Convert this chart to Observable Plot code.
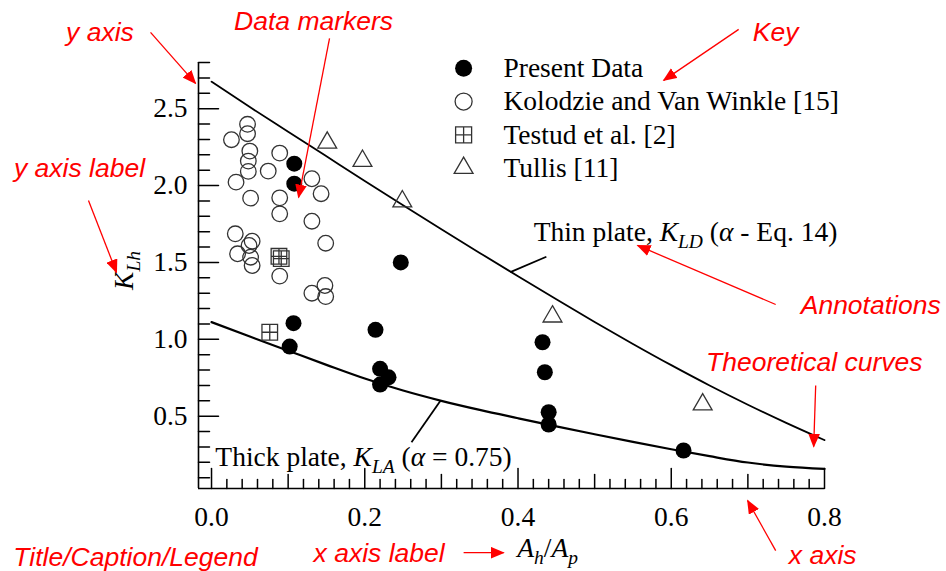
<!DOCTYPE html>
<html><head><meta charset="utf-8">
<script src="https://cdn.jsdelivr.net/npm/d3@7"></script>
<script src="https://cdn.jsdelivr.net/npm/@observablehq/plot@0.6"></script>
<style>
html,body{margin:0;padding:0;background:#fff;}
#chart{width:946px;height:571px;overflow:hidden;}
</style></head><body><div id="chart"></div>
<script>
// ---------------- data ----------------
const presentData = [
  [0.108,2.142],[0.108,2.012],[0.107,1.105],[0.102,0.953],[0.214,1.062],
  [0.220,0.808],[0.231,0.753],[0.220,0.706],[0.247,1.500],[0.432,0.981],
  [0.435,0.786],[0.440,0.526],[0.440,0.446],[0.616,0.277]
];
const kolodzieData = [
  [0.047,2.398],[0.047,2.337],[0.026,2.298],[0.050,2.224],[0.089,2.211],
  [0.048,2.159],[0.048,2.092],[0.074,2.094],[0.032,2.022],[0.131,2.044],
  [0.143,1.947],[0.051,1.918],[0.089,1.920],[0.089,1.816],[0.131,1.768],
  [0.031,1.686],[0.053,1.638],[0.049,1.610],[0.149,1.625],[0.034,1.556],
  [0.051,1.534],[0.053,1.480],[0.089,1.411],[0.131,1.300],[0.148,1.350],
  [0.149,1.278]
];
const testudData = [[0.088,1.540],[0.091,1.525],[0.076,1.046]];
const tullisData = [[0.151,2.278],[0.197,2.160],[0.249,1.897],[0.445,1.148],[0.641,0.576]];

const curveX     = [0,0.05,0.1,0.15,0.2,0.25,0.3,0.35,0.4,0.45,0.5,0.55,0.6,0.65,0.7,0.75,0.8];
const thinPlateY = [2.675,2.51,2.35,2.19,2.03,1.872,1.716,1.562,1.41,1.26,1.113,0.97,0.832,0.70,0.575,0.457,0.345];
const thickPlateY= [1.112,1.018,0.926,0.834,0.745,0.667,0.600,0.541,0.487,0.434,0.383,0.333,0.285,0.240,0.199,0.172,0.157];

const xTickValues = [0,0.2,0.4,0.6,0.8];
const xTickLabels = ["0.0","0.2","0.4","0.6","0.8"];
const yTickValues = [0.5,1.0,1.5,2.0,2.5];
const yTickLabels = ["0.5","1.0","1.5","2.0","2.5"];

const legendLabels = ["Present Data","Kolodzie and Van Winkle [15]","Testud et al. [2]","Tullis [11]"];

// rich labels: segments [text, style] (i = italic, s = subscript)
const thinLabel  = [["Thin plate, ",""],["K","i"],["LD","is"],[" (",""],["α","i"],[" - Eq. 14)",""]];
const thickLabel = [["Thick plate, ",""],["K","i"],["LA","is"],[" (",""],["α","i"],[" = 0.75)",""]];
const xLabel     = [["A","i"],["h","is"],["/",""],["A","i"],["p","is"]];
const yLabel     = [["K","i"],["Lh","is"]];

// leader lines from the curves to their labels
const leaders = [
  {x1:0.390, y1:1.437, x2:0.437, y2:1.537},
  {x1:0.299, y1:0.602, x2:0.261, y2:0.331}
];

// red explanatory annotations (data units, extended beyond frame)
const annotationTexts = [
  {text:"y axis", x:-0.1456, y:2.998},
  {text:"Data markers", x:0.1332, y:3.068},
  {text:"Key", x:0.7363, y:2.998},
  {text:"y axis label", x:-0.1723, y:2.111},
  {text:"Annotations", x:0.8603, y:1.220},
  {text:"Theoretical curves", x:0.7866, y:0.851},
  {text:"x axis", x:0.7977, y:-0.405},
  {text:"x axis label", x:0.2187, y:-0.396},
  {text:"Title/Caption/Legend", x:-0.0992, y:-0.418}
];
const annotationArrows = [
  {x1:-0.0796, y1:2.9961, x2:-0.0209, y2:2.6643},
  {x1:0.1540, y1:2.957, x2:0.1136, y2:1.9226},
  {x1:0.6880, y1:3.0156, x2:0.5901, y2:2.6838},
  {x1:-0.1606, y1:1.9030, x2:-0.1240, y2:1.4346},
  {x1:0.7363, y1:1.2264, x2:0.5561, y2:1.6103},
  {x1:0.7885, y1:0.6994, x2:0.7859, y2:0.3025},
  {x1:0.7363, y1:-0.3741, x2:0.6997, y2:-0.0488},
  {x1:0.3290, y1:-0.3871, x2:0.3812, y2:-0.3871}
];

// ---------------- layout ----------------
const X0 = -0.017, X1 = 0.8, Y0 = 0.03, Y1 = 2.8;
const SERIF = "Liberation Serif, Times New Roman, serif";
const SANS = "Liberation Sans, Arial, sans-serif";
const MARK = "#333";
const FS = 27.5;
const plain = s => s.map(p => p[0]).join("");

const tickShape = {draw(ctx, l) { ctx.moveTo(0, 0); ctx.lineTo(0, -l); }};
const squareCross = {draw(ctx, size) {
  const h = Math.sqrt(size / Math.PI);
  ctx.moveTo(-h, -h); ctx.lineTo(h, -h); ctx.lineTo(h, h); ctx.lineTo(-h, h); ctx.closePath();
  ctx.moveTo(0, -h); ctx.lineTo(0, h);
  ctx.moveTo(-h, 0); ctx.lineTo(h, 0);
}};

const xMid = [0.1,0.3,0.5,0.7];
const xMinor = d3.range(0, 41).map(i => i * 0.02).filter(v => Math.abs(v * 10 - Math.round(v * 10)) > 1e-6);
const yMinor = d3.range(1, 29).map(i => i / 10).filter(v => Math.abs(v * 2 - Math.round(v * 2)) > 1e-6);

const LEG_SX = 0.329, LEG_TX = 0.381, LEG_Y0 = 2.762, LEG_DY = 0.216;
const legendRows = legendLabels.map((name, i) => ({name, x: LEG_SX, tx: LEG_TX, y: LEG_Y0 - i * LEG_DY}));

const richLabels = [
  {segs: thinLabel, x: 0.4204, y: 1.695, anchor: "start", rotate: 0},
  {segs: thickLabel, x: 0.005, y: 0.231, anchor: "start", rotate: 0},
  {segs: xLabel, x: 0.4386, y: -0.361, anchor: "middle", rotate: 0},
  {segs: yLabel, x: -0.1136, y: 1.448, anchor: "middle", rotate: -90}
];

const plot = Plot.plot({
  width: 946, height: 571,
  marginLeft: 198, marginRight: 122, marginTop: 62, marginBottom: 83,
  x: {domain: [X0, X1], axis: null},
  y: {domain: [Y0, Y1], axis: null},
  style: {background: "#fff", fontFamily: SERIF, overflow: "visible"},
  marks: [
    // axis lines
    Plot.ruleX([X0], {y1: Y0, y2: Y1, stroke: "#000", strokeWidth: 1.6}),
    Plot.ruleY([Y0], {x1: X0, x2: X1, stroke: "#000", strokeWidth: 1.6}),
    // inward ticks
    Plot.vector(xTickValues, {x: d => d, y: Y0, length: 20, rotate: 0, anchor: "start", shape: tickShape, stroke: "#000", strokeWidth: 1.5}),
    Plot.vector(xMid, {x: d => d, y: Y0, length: 14, rotate: 0, anchor: "start", shape: tickShape, stroke: "#000", strokeWidth: 1.5}),
    Plot.vector(xMinor, {x: d => d, y: Y0, length: 9, rotate: 0, anchor: "start", shape: tickShape, stroke: "#000", strokeWidth: 1.5}),
    Plot.vector(yTickValues, {x: X0, y: d => d, length: 20, rotate: 90, anchor: "start", shape: tickShape, stroke: "#000", strokeWidth: 1.5}),
    Plot.vector(yMinor, {x: X0, y: d => d, length: 11, rotate: 90, anchor: "start", shape: tickShape, stroke: "#000", strokeWidth: 1.5}),
    // tick labels
    Plot.text(xTickValues, {x: d => d, y: Y0, text: (d, i) => xTickLabels[i], dy: 28.5, fontSize: FS, fontFamily: SERIF, fill: "#000"}),
    Plot.text(yTickValues, {x: X0, y: d => d, text: (d, i) => yTickLabels[i], dx: -11, textAnchor: "end", fontSize: FS, fontFamily: SERIF, fill: "#000"}),
    // theoretical curves
    Plot.line(curveX.map((x, i) => [x, thinPlateY[i]]), {curve: "monotone-x", stroke: "#000", strokeWidth: 1.8}),
    Plot.line(curveX.map((x, i) => [x, thickPlateY[i]]), {curve: "monotone-x", stroke: "#000", strokeWidth: 2.2}),
    Plot.link(leaders, {x1: "x1", y1: "y1", x2: "x2", y2: "y2", stroke: "#000", strokeWidth: 1.8}),
    // data markers
    Plot.dot(kolodzieData, {r: 7.8, fill: "none", stroke: MARK, strokeWidth: 1.3}),
    Plot.dot(testudData, {r: 7.8, symbol: squareCross, fill: "none", stroke: MARK, strokeWidth: 1.3}),
    Plot.dot(tullisData, {r: 7, symbol: "triangle", fill: "none", stroke: MARK, strokeWidth: 1.3}),
    Plot.dot(presentData, {r: 8, fill: "#000", stroke: "none"}),
    // legend
    Plot.dot([legendRows[0]], {x: "x", y: "y", r: 8.5, fill: "#000", stroke: "none"}),
    Plot.dot([legendRows[1]], {x: "x", y: "y", r: 8.5, fill: "none", stroke: MARK, strokeWidth: 1.3}),
    Plot.dot([legendRows[2]], {x: "x", y: "y", r: 8, symbol: squareCross, fill: "none", stroke: MARK, strokeWidth: 1.3}),
    Plot.dot([legendRows[3]], {x: "x", y: "y", r: 7, symbol: "triangle", fill: "none", stroke: MARK, strokeWidth: 1.3}),
    Plot.text(legendRows, {x: "tx", y: "y", text: "name", textAnchor: "start", fontSize: FS, fontFamily: SERIF, fill: "#000"}),
    // curve labels and axis labels (rich text filled in below)
    ...richLabels.map(l => Plot.text([l], {x: "x", y: "y", text: d => plain(d.segs), textAnchor: l.anchor, rotate: l.rotate, fontSize: FS, fontFamily: SERIF, fill: "#000"})),
    // red annotations
    Plot.link(annotationArrows, {x1: "x1", y1: "y1", x2: "x2", y2: "y2", stroke: "#ff0000", strokeWidth: 1.3, className: "redarrow"}),
    Plot.text(annotationTexts, {x: "x", y: "y", text: "text", fontSize: 26.5, fontFamily: SANS, fontStyle: "italic", fill: "#ff0000"})
  ]
});

// rich text: italic + subscripts as tspans
const svg = d3.select(plot);
svg.selectAll("text").each(function() {
  const lab = richLabels.find(l => plain(l.segs) === this.textContent);
  if (!lab) return;
  const t = d3.select(this);
  t.text(null);
  let shift = 0;
  lab.segs.forEach(([str, st]) => {
    const ts = t.append("tspan").text(str);
    if (st.includes("i")) ts.attr("font-style", "italic");
    const want = st.includes("s") ? 7 : 0;
    if (want !== shift) { ts.attr("dy", want - shift); shift = want; }
    if (st.includes("s")) ts.attr("font-size", 19.5);
  });
});

// filled red arrowheads
const defs = svg.append("defs");
defs.append("marker").attr("id", "redhead").attr("viewBox", "0 0 12 10")
  .attr("refX", 11).attr("refY", 5).attr("markerWidth", 14).attr("markerHeight", 12)
  .attr("markerUnits", "userSpaceOnUse").attr("orient", "auto")
  .append("path").attr("d", "M0,0L12,5L0,10Z").attr("fill", "#ff0000");
svg.selectAll(".redarrow path").attr("marker-end", "url(#redhead)");

document.getElementById("chart").appendChild(plot);
</script>
</body></html>
